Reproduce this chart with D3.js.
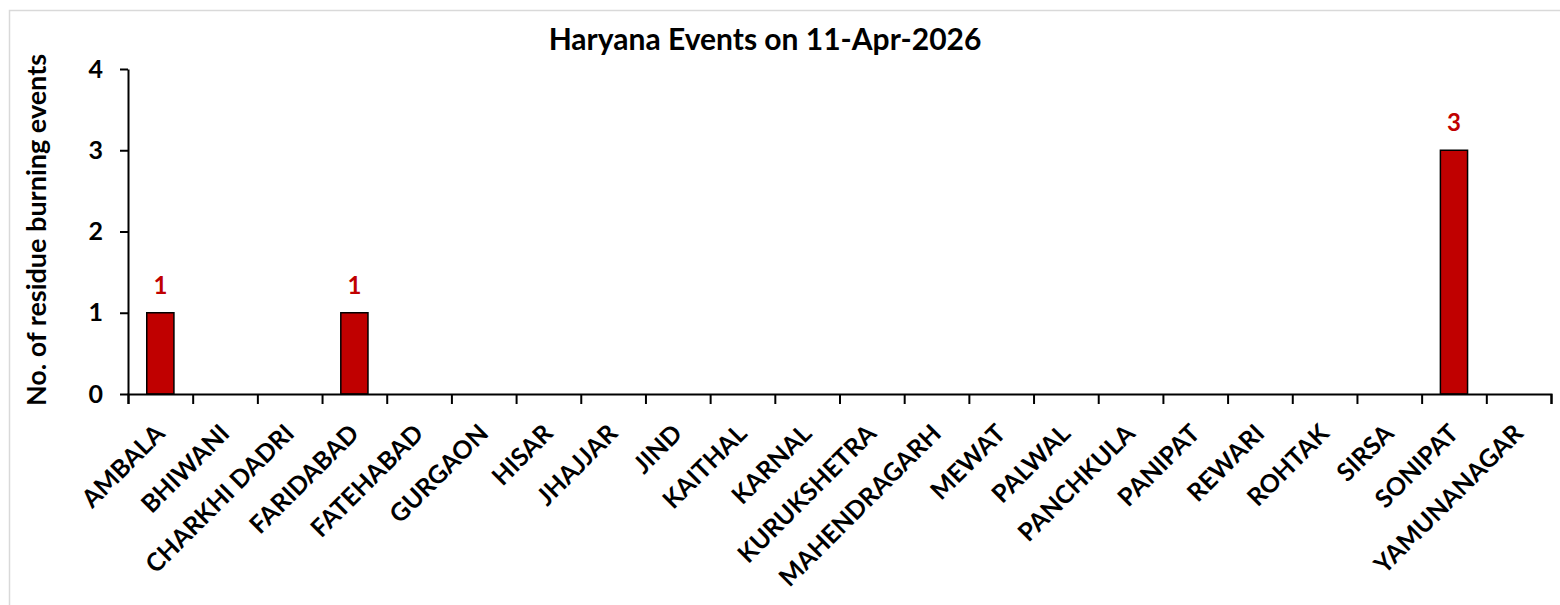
<!DOCTYPE html>
<html>
<head>
<meta charset="utf-8">
<script src="https://cdn.jsdelivr.net/npm/d3@7"></script>
<style>
  body { margin: 0; background: #fff; }
  text { font-family: Lato, "Noto Sans", sans-serif; font-weight: bold; }
</style>
</head>
<body>
<div id="canvas"></div>
<script>
// chart data
const districts = ["AMBALA", "BHIWANI", "CHARKHI DADRI", "FARIDABAD", "FATEHABAD", "GURGAON", "HISAR",
    "JHAJJAR", "JIND", "KAITHAL", "KARNAL", "KURUKSHETRA", "MAHENDRAGARH", "MEWAT", "PALWAL",
    "PANCHKULA", "PANIPAT", "REWARI", "ROHTAK", "SIRSA", "SONIPAT", "YAMUNANAGAR"];
const events = [1, 0, 0, 1, 0, 0, 0, 0, 0, 0, 0, 0, 0, 0, 0, 0, 0, 0, 0, 0, 3, 0];
const yTicks = [0, 1, 2, 3, 4];
const title = "Haryana Events on 11-Apr-2026";
const yLabel = "No. of residue burning events";

const W = 1560, H = 605;
let margin = {top: 69, right: 9, bottom: 211, left: 128};
let width = W - margin.left - margin.right;
let height = H - margin.top - margin.bottom;

let svg = d3.select("#canvas")
    .append("svg")
    .attr("width", W)
    .attr("height", H);

// chart border
svg.append("rect")
    .attr("x", 9.5).attr("y", 10.5)
    .attr("width", W).attr("height", H)
    .attr("fill", "#fff")
    .attr("stroke", "#d9d9d9")
    .attr("stroke-width", 1.5);

let g = svg.append("g")
    .attr("transform", "translate(" + margin.left + "," + margin.top + ")");

let x = d3.scaleBand()
    .domain(districts)
    .range([0, width])
    .paddingInner(0.58)
    .paddingOuter(0.29);

// boundary ticks between categories
let xEdge = d3.scaleLinear()
    .domain([0, districts.length])
    .range([0, width]);

let y = d3.scaleLinear()
    .domain([0, 4])
    .range([height, 0]);

// y axis
let yAxis = g.append("g")
    .call(d3.axisLeft(y).tickValues(yTicks).tickFormat(d3.format("d"))
        .tickSize(8).tickPadding(17).tickSizeOuter(0));
yAxis.select(".domain").attr("stroke-width", 2);
yAxis.selectAll(".tick line").attr("stroke-width", 2);
yAxis.selectAll("text")
    .style("font-size", "25px")
    .attr("fill", "#000");

// bars
g.selectAll(".bar")
    .data(districts)
    .enter()
    .append("rect")
    .attr("class", "bar")
    .attr("x", d => x(d))
    .attr("width", x.bandwidth())
    .attr("y", (d, i) => y(events[i]))
    .attr("height", (d, i) => height - y(events[i]))
    .attr("fill", "#c00000")
    .attr("stroke", "#000")
    .attr("stroke-width", 1.5);

// data labels for non-zero values
g.selectAll(".val")
    .data(districts.filter((d, i) => events[i] > 0))
    .enter()
    .append("text")
    .attr("class", "val")
    .attr("x", d => x(d) + x.bandwidth() / 2)
    .attr("y", d => y(events[districts.indexOf(d)]) - 19)
    .attr("text-anchor", "middle")
    .attr("fill", "#c00000")
    .style("font-size", "24px")
    .text(d => events[districts.indexOf(d)]);

// x axis line + boundary ticks
let xAxis = g.append("g")
    .attr("transform", "translate(0," + height + ")")
    .call(d3.axisBottom(xEdge).tickValues(d3.range(districts.length + 1)).tickSize(10).tickFormat(""));
xAxis.select(".domain").attr("stroke-width", 2);
xAxis.selectAll(".tick line").attr("stroke-width", 2);

// category labels
let xLabels = g.append("g")
    .attr("transform", "translate(0," + height + ")")
    .call(d3.axisBottom(x).tickSize(0).tickPadding(0));
xLabels.select(".domain").remove();
xLabels.selectAll("text")
    .style("font-size", "25px")
    .attr("fill", "#000")
    .attr("text-anchor", "end")
    .attr("dy", 0)
    .attr("y", 0)
    .attr("transform", "translate(6,41) rotate(-45)");

// title
svg.append("text")
    .attr("x", 765)
    .attr("y", 50)
    .attr("text-anchor", "middle")
    .style("font-size", "30px")
    .text(title);

// y axis label
svg.append("text")
    .attr("transform", "translate(46," + 230 + ") rotate(-90)")
    .attr("text-anchor", "middle")
    .style("font-size", "27px")
    .text(yLabel);
</script>
</body>
</html>
